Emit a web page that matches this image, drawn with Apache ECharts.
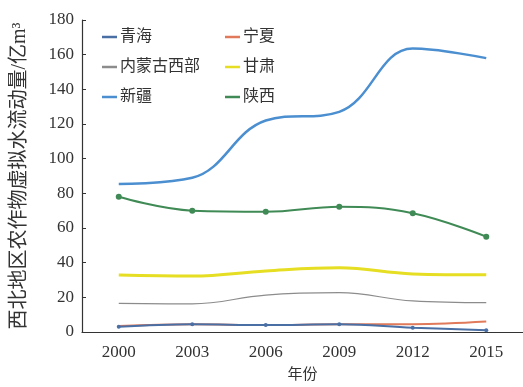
<!DOCTYPE html>
<html>
<head>
<meta charset="utf-8">
<script src="https://cdn.jsdelivr.net/npm/echarts@6/dist/echarts.min.js"></script>
<style>
  html, body { margin: 0; padding: 0; background: #fff; }
  #chart { width: 523px; height: 387px; }
</style>
</head>
<body>
<div id="chart"></div>
<script>
// Years on the horizontal axis
var years = ['2000', '2003', '2006', '2009', '2012', '2015'];

// Virtual water flow of crops, 亿m³
var qinghai   = [3.0, 4.5, 4.0, 4.5, 2.5, 1.0];
var ningxia   = [3.5, 4.5, 4.0, 4.5, 4.5, 6.0];
var neimeng   = [16.5, 16.2, 21.3, 22.7, 17.9, 16.9];
var gansu     = [32.9, 32.3, 35.2, 37.0, 33.5, 33.0];
var xinjiang  = [85.4, 89.0, 122.0, 127.0, 163.5, 158.0];
var shaanxi   = [78.0, 70.0, 69.4, 72.3, 68.5, 55.0];

var yTicks = { min: 0, max: 180, interval: 20 };

var serif = 'Liberation Serif';
var cjk = '"Liberation Serif", "Noto Sans CJK SC"';

function line(name, data, color, width, symbol, symbolSize, z) {
  return {
    name: name,
    type: 'line',
    data: data,
    smooth: 0.4,
    symbol: symbol,
    symbolSize: symbolSize,
    showSymbol: symbol !== 'none',
    z: z || 2,
    lineStyle: { color: color, width: width },
    itemStyle: { color: color }
  };
}

var legendBase = {
  orient: 'vertical',
  icon: 'rect',
  itemWidth: 15,
  itemHeight: 2.5,
  itemGap: 14,
  textStyle: { fontFamily: cjk, fontSize: 16, color: '#333', padding: [0, 0, 0, -2] }
};

var chart = echarts.init(document.getElementById('chart'));
chart.setOption({
  animation: false,
  backgroundColor: '#fff',
  grid: { left: 82, right: 0, top: 20, bottom: 55, outerBoundsMode: 'none', containLabel: false },
  legend: [
    Object.assign({}, legendBase, { left: 97, top: 24, data: ['青海', '内蒙古西部', '新疆'] }),
    Object.assign({}, legendBase, { left: 220, top: 24, data: ['宁夏', '甘肃', '陕西'] })
  ],
  xAxis: {
    type: 'category',
    data: years,
    boundaryGap: true,
    name: '年份',
    nameLocation: 'middle',
    nameGap: 36,
    nameTextStyle: { fontFamily: cjk, fontSize: 15, color: '#333' },
    axisLine: { lineStyle: { color: '#333', width: 1.2 } },
    axisTick: { inside: true, length: 4, lineStyle: { color: '#333' } },
    axisLabel: { fontFamily: serif, fontSize: 17, color: '#333', margin: 12 },
    splitLine: { show: false }
  },
  yAxis: {
    type: 'value',
    min: yTicks.min,
    max: yTicks.max,
    interval: yTicks.interval,
    name: '西北地区农作物虚拟水流动量/亿m³',
    nameLocation: 'middle',
    nameGap: 52,
    nameRotate: 90,
    nameTextStyle: { fontFamily: cjk, fontSize: 20, color: '#333' },
    axisLine: { show: true, lineStyle: { color: '#333', width: 1.2 } },
    axisTick: { show: true, inside: true, length: 4, lineStyle: { color: '#333' } },
    axisLabel: { fontFamily: serif, fontSize: 17, color: '#333', margin: 8 },
    splitLine: { show: false }
  },
  series: [
    line('青海', qinghai, '#4a6fa5', 2, 'circle', 4, 3),
    line('内蒙古西部', neimeng, '#8c8c8c', 1.2, 'none', 0),
    line('新疆', xinjiang, '#4b8fd0', 2.5, 'none', 0, 4),
    line('宁夏', ningxia, '#e07a5a', 2, 'none', 0),
    line('甘肃', gansu, '#e6de22', 3, 'none', 0),
    line('陕西', shaanxi, '#3f8a55', 2, 'circle', 6, 3)
  ]
});
</script>
</body>
</html>
